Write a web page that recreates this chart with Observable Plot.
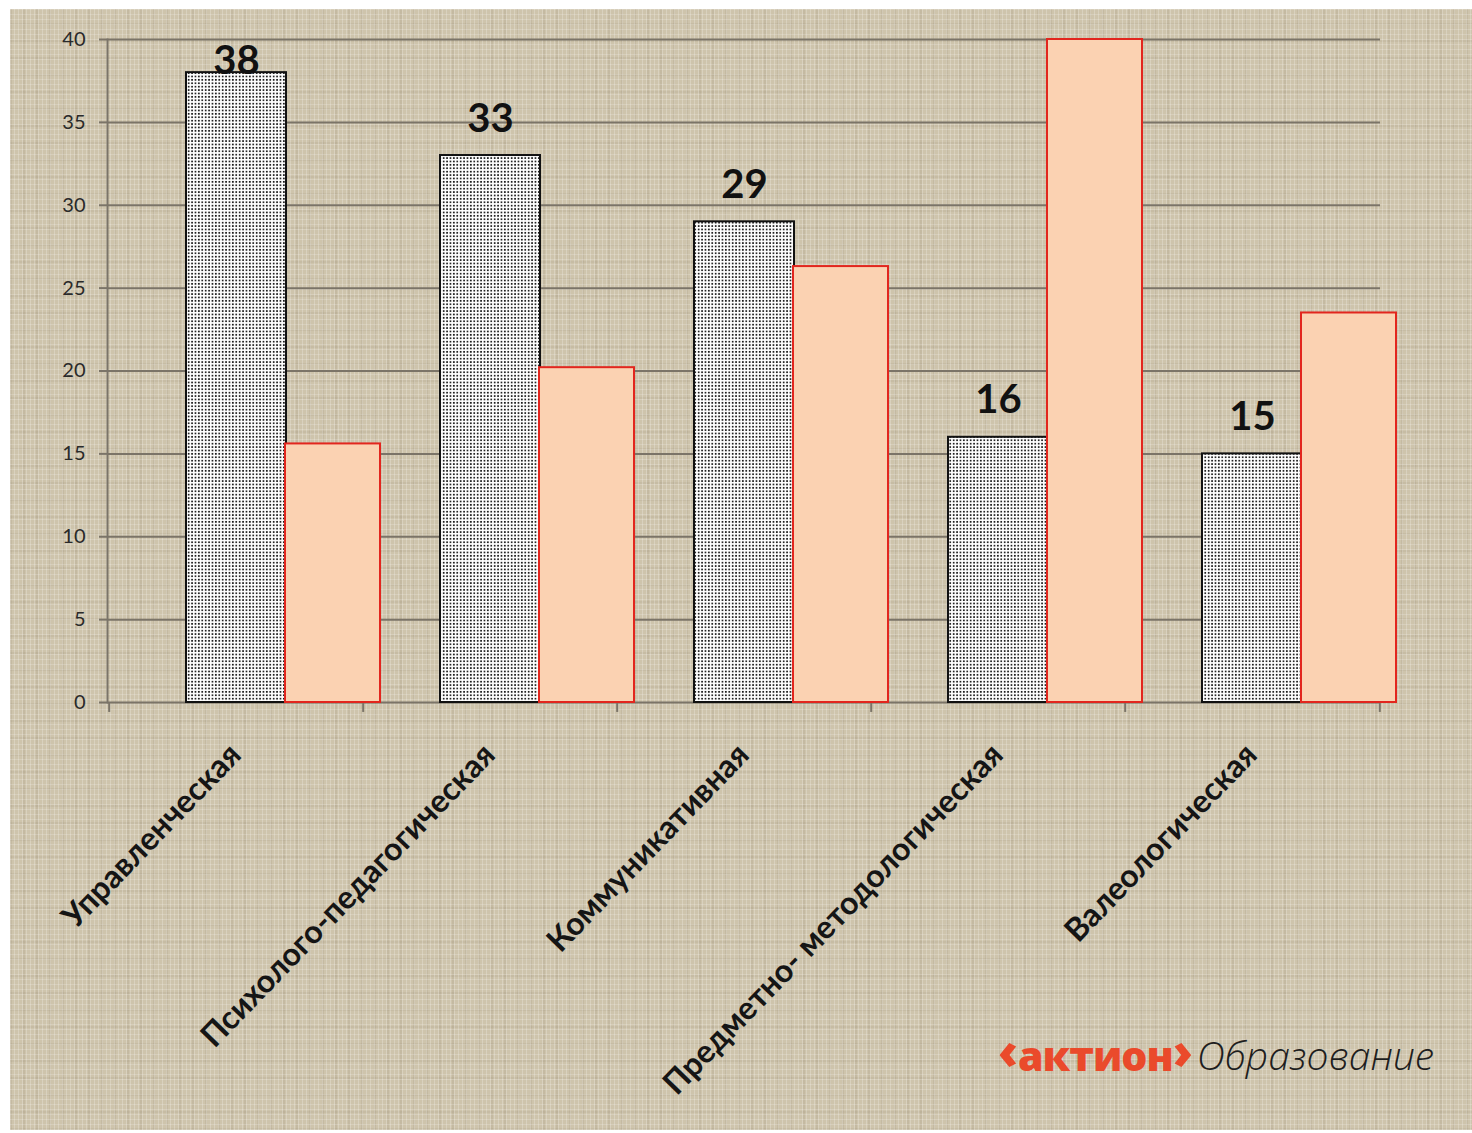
<!DOCTYPE html>
<html>
<head>
<meta charset="utf-8">
<script src="https://cdn.jsdelivr.net/npm/d3@7"></script>
<script src="https://cdn.jsdelivr.net/npm/@observablehq/plot@0.6"></script>
<style>
  body { margin: 0; background: #ffffff; }
  #wrap { position: relative; width: 1472px; height: 1133px; overflow: hidden; }
  #bg {
    position: absolute; left: 10px; top: 9px; right: 0; bottom: 3px;
    background-color: #cec4ac;
    background-image:
      repeating-linear-gradient(90deg, rgba(255,255,255,0.22) 0 1px, transparent 1px 4px),
      repeating-linear-gradient(0deg, rgba(255,255,255,0.18) 0 1px, transparent 1px 5px),
      repeating-linear-gradient(90deg, rgba(110,95,70,0.10) 0 2px, transparent 2px 13px),
      repeating-linear-gradient(0deg, rgba(110,95,70,0.08) 0 2px, transparent 2px 17px);
  }
  #chart { position: absolute; left: 0; top: 0; }
  #logo { position: absolute; left: 998px; top: 1027px; white-space: nowrap; line-height: 1; }
  #logo .a { font-family: "Open Sans", sans-serif; font-weight: 800; font-size: 41px; color: #ea4a2b; letter-spacing: -1px; }
  #logo .c { font-family: "Open Sans", sans-serif; font-weight: 800; font-size: 50px; color: #ea4a2b; position: relative; top: -2px; }
  #logo .b { font-family: "Open Sans", sans-serif; font-style: italic; font-weight: 300; font-size: 39px; color: #1e1e1e; margin-left: 4px; position: relative; top: -1px; }
</style>
</head>
<body>
<div id="wrap">
  <div id="bg"></div>
  <div id="chart"></div>
  <div id="logo"><span class="c">‹</span><span class="a">актион</span><span class="c">›</span><span class="b">Образование</span></div>
</div>
<script>
const categories = ["Управленческая", "Психолого-педагогическая", "Коммуникативная", "Предметно- методологическая", "Валеологическая"];
const seriesGray = [38, 33, 29, 16, 15];
const seriesPeach = [15.6, 20.2, 26.3, 40, 23.5];
const yTicks = [0, 5, 10, 15, 20, 25, 30, 35, 40];

const grayData = categories.map((c, i) => ({cat: c, v: seriesGray[i]}));
const peachData = categories.map((c, i) => ({cat: c, v: seriesPeach[i]}));

const W = 1472, H = 1133;
const mL = 107, mR = 92, mT = 39, mB = 431;
const bw = (W - mL - mR) / categories.length;
const gridColor = "#7b7468";

const svg = Plot.plot({
  width: W, height: H,
  marginLeft: mL, marginRight: mR, marginTop: mT, marginBottom: mB,
  style: { background: "transparent", fontFamily: "Lato, 'Open Sans', sans-serif", overflow: "visible" },
  x: { domain: categories, padding: 0, label: null },
  y: { domain: [0, 40], label: null },
  marks: [
    Plot.gridY(yTicks, { stroke: gridColor, strokeOpacity: 1, strokeWidth: 2 }),
    Plot.axisY(yTicks, { tickSize: 8, tickPadding: 14, fontSize: 20, fill: "#2a2a2a", stroke: gridColor, strokeWidth: 2, label: null }),
    Plot.frame({ anchor: "left", stroke: gridColor, strokeWidth: 2 }),
    Plot.ruleX(categories, { x: d => d, y1: 0, y2: -0.6, dx: -bw / 2, stroke: gridColor, strokeWidth: 2 }),
    Plot.ruleX(categories.slice(-1), { x: d => d, y1: 0, y2: -0.6, dx: bw / 2, stroke: gridColor, strokeWidth: 2 }),
    Plot.axisX({ tickSize: 0, tickRotate: -46, tickPadding: 47, dx: -1, fontSize: 32, fontWeight: "bold", fill: "#151515", label: null }),
    Plot.barY(grayData, { x: "cat", y: "v", fill: "url(#dots)", stroke: "#111", strokeWidth: 2, insetLeft: 77, insetRight: 77 }),
    Plot.barY(peachData, { x: "cat", y: "v", fill: "#fbd2b2", stroke: "#e2261e", strokeWidth: 2, insetLeft: 77, insetRight: 82, dx: 99 }),
    Plot.text(grayData, { x: "cat", y: d => Math.min(d.v, 36.5), text: d => String(d.v), lineAnchor: "bottom", dy: -24, fontSize: 40, fontWeight: "bold", fill: "#111" })
  ]
});

const ns = "http://www.w3.org/2000/svg";
const defs = document.createElementNS(ns, "defs");
defs.innerHTML = '<pattern id="dots" width="3.4" height="3.4" patternUnits="userSpaceOnUse">' +
  '<rect width="3.4" height="3.4" fill="#ffffff"/>' +
  '<rect x="0.8" y="0.8" width="1.7" height="1.7" fill="#1a1a1a"/></pattern>';
svg.insertBefore(defs, svg.firstChild);
document.getElementById("chart").appendChild(svg);
</script>
</body>
</html>
